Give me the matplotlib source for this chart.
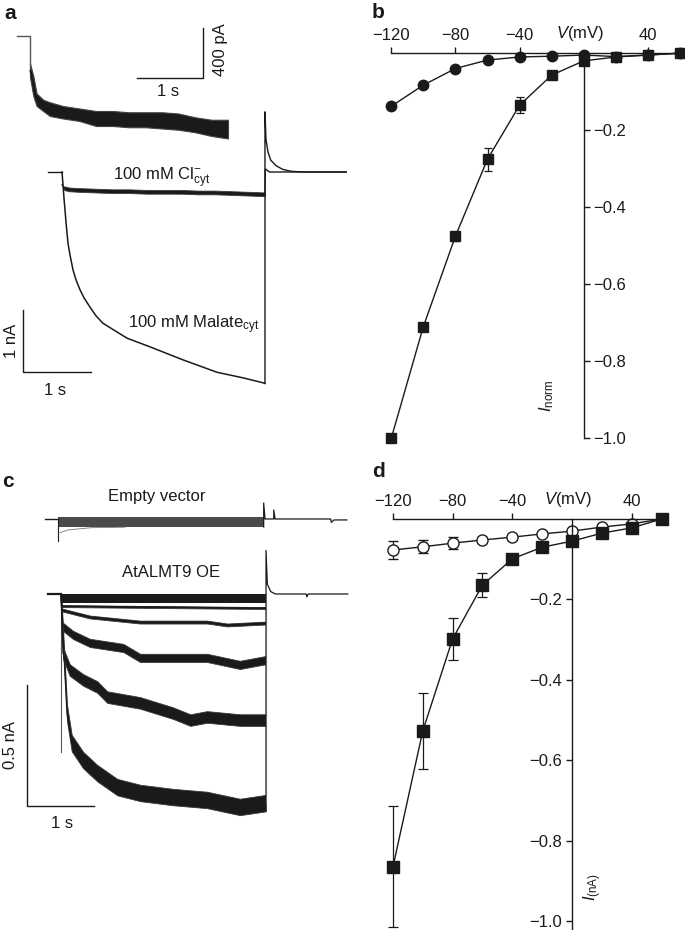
import matplotlib
matplotlib.use('Agg')
import matplotlib.pyplot as plt
import numpy as np

plt.rcParams['font.family'] = ['Liberation Sans', 'DejaVu Sans']
plt.rcParams['mathtext.fontset'] = 'custom'
plt.rcParams['mathtext.rm'] = 'Liberation Sans'
plt.rcParams['mathtext.it'] = 'Liberation Sans:italic'

W, H = 685, 930
INK = '#1a1a1a'
FS = 12

# ---------------- data ----------------
# panel a, main traces (time s, current nA)
pre_t = [-0.206, 0.0]
pre_i = [0.0, 0.0]
cl_t = [0.0, 0.03, 0.1, 0.25, 0.5, 0.75, 1.0, 1.25, 1.5, 1.75, 2.0, 2.25, 2.5, 2.75, 2.985]
cl_i = [-0.20, -0.26, -0.28, -0.29, -0.30, -0.31, -0.31, -0.32, -0.32, -0.32, -0.33, -0.33, -0.34, -0.35, -0.36]
mal_t = [0.0, 0.015, 0.029, 0.044, 0.059, 0.088, 0.118, 0.162, 0.206, 0.265, 0.324, 0.412,
         0.5, 0.603, 0.779, 0.956, 1.294, 1.779, 2.279, 2.662, 2.956, 2.985]
mal_i = [0.0, -0.21, -0.42, -0.61, -0.81, -1.15, -1.34, -1.58, -1.74, -1.90, -2.03, -2.18,
         -2.32, -2.44, -2.56, -2.68, -2.82, -3.03, -3.23, -3.32, -3.40, -3.41]
tail_t = [2.985, 2.985, 3.0, 3.03, 3.07, 3.15, 3.25, 3.38, 3.57, 4.18]
tail_i = [-3.41, 0.97, 0.52, 0.32, 0.19, 0.10, 0.04, 0.01, 0.0, 0.0]

# panel a, inset (zoomed chloride trace)
ins_pre_t = [-0.197, 0.0, 0.0]
ins_pre_i = [0.0, 0.0, -0.25]
ins_t = [0.0, 0.05, 0.1, 0.2, 0.3, 0.5, 0.75, 1.0, 1.25, 1.5, 1.75, 2.0, 2.25, 2.5, 2.75, 3.0]
ins_hi = [-0.22, -0.32, -0.46, -0.51, -0.53, -0.56, -0.58, -0.60, -0.60, -0.61, -0.61, -0.61, -0.62, -0.65, -0.67, -0.67]
ins_lo = [-0.33, -0.48, -0.56, -0.60, -0.64, -0.66, -0.68, -0.72, -0.72, -0.73, -0.73, -0.74, -0.75, -0.77, -0.80, -0.82]

# panel c, empty vector
ev_pre_t = [-0.194, 0.0]
ev_band_t = [0.0, 3.07]
ev_band_hi = [0.008, 0.008]
ev_band_lo = [-0.033, -0.033]
ev_decay_t = [0.0, 0.15, 0.5, 1.0]
ev_decay_i = [-0.06, -0.045, -0.036, -0.034]
ev_post_t = [3.07, 3.07, 3.09, 3.22, 3.22, 3.24, 4.07, 4.08, 4.12, 4.31]
ev_post_i = [-0.033, 0.066, 0.0, 0.0, 0.037, 0.0, 0.0, -0.014, -0.004, -0.004]

# panel c, AtALMT9 OE family of traces
oe_pre_t = [-0.194, 0.0]
oe_band_t = [0.0, 3.06]
oe_band_hi = [0.002, 0.002]
oe_band_lo = [-0.036, -0.036]
oe_traces = [
    ([0.0, 0.02, 1.5, 3.06], [0.0, -0.05, -0.054, -0.058], 0.004),
    ([0.0, 0.015, 0.43, 1.18, 2.18, 2.48, 3.06],
     [0.0, -0.066, -0.095, -0.116, -0.116, -0.128, -0.12], 0.006),
    ([0.0, 0.03, 0.18, 0.43, 0.93, 1.18, 1.67, 2.18, 2.67, 3.06],
     [0.0, -0.136, -0.169, -0.202, -0.223, -0.264, -0.264, -0.264, -0.293, -0.273], 0.017),
    ([0.0, 0.03, 0.13, 0.33, 0.54, 0.69, 1.18, 1.67, 1.93, 2.18, 2.67, 3.06],
     [0.0, -0.244, -0.314, -0.355, -0.384, -0.426, -0.450, -0.492, -0.521, -0.508, -0.521, -0.521], 0.024),
    ([0.0, 0.015, 0.09, 0.16, 0.33, 0.54, 0.84, 1.18, 1.67, 2.18, 2.67, 3.06],
     [0.0, -0.095, -0.492, -0.616, -0.686, -0.740, -0.798, -0.822, -0.839, -0.851, -0.880, -0.864], 0.034),
]
oe_transient_i = -0.653
oe_post_t = [3.06, 3.06, 3.08, 3.13, 3.2, 3.66, 3.67, 3.69, 4.28]
oe_post_i = [-0.864, 0.18, 0.04, 0.01, 0.0, 0.0, -0.012, 0.0, 0.0]

# panels b and d, I-V curves
V = [-120, -100, -80, -60, -40, -20, 0, 20, 40, 60]
b_sq = [-1.0, -0.71, -0.475, -0.275, -0.135, -0.057, -0.02, -0.01, -0.005, 0.0]
b_sq_err = [0, 0, 0.012, 0.03, 0.02, 0, 0, 0, 0, 0]
b_circ = [-0.138, -0.083, -0.04, -0.018, -0.01, -0.008, -0.005, -0.009, -0.005, 0.0]

d_sq = [-0.865, -0.527, -0.298, -0.164, -0.099, -0.07, -0.055, -0.035, -0.022, 0.0]
d_sq_err = [0.15, 0.095, 0.053, 0.03, 0.012, 0.008, 0.005, 0.004, 0.004, 0]
d_circ = [-0.077, -0.069, -0.06, -0.052, -0.045, -0.037, -0.03, -0.02, -0.012, 0.0]
d_circ_err = [0.022, 0.016, 0.015, 0.008, 0.006, 0.004, 0.003, 0.002, 0.002, 0]

iv_xticks = [-120, -80, -40, 40]
iv_yticks = [-0.2, -0.4, -0.6, -0.8, -1.0]


# ---------------- helpers ----------------
fig = plt.figure(figsize=(W / 100, H / 100), dpi=100)


def frac(x0, y0, x1, y1):
    return [x0 / W, 1 - y1 / H, (x1 - x0) / W, (y1 - y0) / H]


def ftext(x, y, s, **kw):
    kw.setdefault('fontsize', FS)
    kw.setdefault('color', INK)
    fig.text(x / W, 1 - y / H, s, **kw)


def trace_axes(box, x0px, y0px, px_s, px_na):
    ax = fig.add_axes(frac(*box))
    ax.set_xlim((box[0] - x0px) / px_s, (box[2] - x0px) / px_s)
    ax.set_ylim(-(box[3] - y0px) / px_na, -(box[1] - y0px) / px_na)
    ax.axis('off')
    return ax


def band(ax, t, mid, hw, color=INK):
    t = np.asarray(t)
    mid = np.asarray(mid)
    ax.fill_between(t[1:], mid[1:] - hw, mid[1:] + hw, color=color, lw=0.6, ec='#3a3a3a')
    ax.plot(t, mid, color=color, lw=0.9)


def scalebar(ax, x, y, dx, dy):
    ax.plot([x, x, x + dx], [y + dy, y, y], color=INK, lw=1)


# ---------------- panel a ----------------
ax_a = trace_axes((0, 100, 365, 400), 62, 172, 68, 62)
ax_a.plot(pre_t, pre_i, color=INK, lw=1)
ax_a.plot(mal_t, mal_i, color=INK, lw=1.1)
band(ax_a, cl_t, cl_i, 0.03)
ax_a.plot(tail_t, tail_i, color=INK, lw=1)
ax_a.plot([2.985, 2.99, 3.05, 4.18], [-0.36, 0.05, 0.0, 0.0], color=INK, lw=1)
scalebar(ax_a, -0.574, -3.226, 1.0, 1.0)

ax_in = trace_axes((0, 20, 365, 160), 30, 36, 66, 125)
ax_in.plot(ins_pre_t, ins_pre_i, color='#555555', lw=1)
ax_in.fill_between(ins_t, ins_lo, ins_hi, color=INK, lw=0.8, ec='#444444')
ax_in.plot(ins_t, (np.array(ins_hi) + np.array(ins_lo)) / 2, color=INK, lw=0.8)
scalebar(ax_in, 2.62, -0.336, -1.0, 0.4)

ftext(4, 4, 'a', fontsize=15, fontweight='bold', va='top')
ftext(221, 50, '400 pA', rotation=90, ha='center', va='center')
ftext(168, 91, '1 s', ha='center', va='center')
ftext(113, 180, r'100 mM Cl$^{-}_{\mathrm{cyt}}$', ha='left', va='baseline')
ftext(128, 328, r'100 mM Malate$_{\mathrm{cyt}}$', ha='left', va='baseline')
ftext(12, 341, '1 nA', rotation=90, ha='center', va='center')
ftext(55, 390, '1 s', ha='center', va='center')

# ---------------- panel c ----------------
ax_c = trace_axes((0, 480, 365, 840), 61, 594, 67, 242)
ev_dt, ev_di = -0.045, 0.31   # placement of the empty vector record
ax_c.plot(np.array(ev_pre_t) + ev_dt, np.array([0, 0]) + ev_di, color=INK, lw=1)
ax_c.plot([ev_dt, ev_dt], [ev_di, ev_di - 0.09], color=INK, lw=0.8)
ax_c.fill_between(np.array(ev_band_t) + ev_dt, np.array(ev_band_lo) + ev_di,
                  np.array(ev_band_hi) + ev_di, color='#4a4a4a', lw=0)
ax_c.plot(np.array(ev_decay_t) + ev_dt, np.array(ev_decay_i) + ev_di, color='#777777', lw=0.6)
ax_c.plot(np.array(ev_post_t) + ev_dt, np.array(ev_post_i) + ev_di, color=INK, lw=0.9)

ax_c.plot(oe_pre_t, [0, 0], color=INK, lw=1.6)
ax_c.plot([0, 0], [0, oe_transient_i], color='#555555', lw=0.8)
ax_c.fill_between(oe_band_t, oe_band_lo, oe_band_hi, color=INK, lw=0)
for t, i, hw in oe_traces:
    band(ax_c, t, i, hw)
ax_c.plot(oe_post_t, oe_post_i, color=INK, lw=0.9)
ax_c.plot([oe_post_t[0], oe_post_t[0]], [oe_post_i[0], 0], color='#666666', lw=0.8)
scalebar(ax_c, -0.507, -0.876, 1.0, 0.5)

ftext(2, 472, 'c', fontsize=15, fontweight='bold', va='top')
ftext(157, 496, 'Empty vector', ha='center', va='center')
ftext(171, 572, 'AtALMT9 OE', ha='center', va='center')
ftext(11, 745, '0.5 nA', rotation=90, ha='center', va='center')
ftext(62, 823, '1 s', ha='center', va='center')


# ---------------- panels b and d ----------------
def iv_axes(box, xlim, ylim, yside, ybounds, xbounds):
    ax = fig.add_axes(frac(*box))
    ax.set_xlim(*xlim)
    ax.set_ylim(*ylim)
    ax.patch.set_alpha(0)
    other = 'left' if yside == 'right' else 'right'
    for s in ['bottom', other]:
        ax.spines[s].set_visible(False)
    ax.spines['top'].set_position(('data', 0))
    ax.spines[yside].set_position(('data', 0))
    ax.spines['top'].set_bounds(*xbounds)
    ax.spines[yside].set_bounds(*ybounds)
    for s in ['top', yside]:
        ax.spines[s].set_color(INK)
        ax.spines[s].set_linewidth(1)
    ax.xaxis.set_ticks_position('top')
    ax.yaxis.set_ticks_position(yside)
    ax.set_xticks(iv_xticks)
    ax.set_xticklabels([f'{v:d}'.replace('-', '\u2212') for v in iv_xticks])
    ax.set_yticks(iv_yticks)
    ax.set_yticklabels([f'{v:.1f}'.replace('-', '\u2212') for v in iv_yticks])
    ax.tick_params(length=4, width=1, color=INK, labelsize=FS, labelcolor=INK, pad=3)
    ax.annotate(r'$V$(mV)', xy=(0, 0), xycoords='data', xytext=(-3, 7),
                textcoords='offset points', ha='center', va='bottom',
                fontsize=FS, color=INK)
    return ax


ax_b = iv_axes((388, 30, 685, 450), (-122, 63), (-1.03, 0.06), 'right', (-1.0, 0), (-120, 63))
ax_b.plot(V, b_circ, marker='o', ms=7.5, color=INK, lw=1, clip_on=False)
ax_b.errorbar(V, b_sq, yerr=b_sq_err, marker='s', ms=7.5, color=INK, lw=1,
              capsize=3, elinewidth=0.9, capthick=0.9, clip_on=False)
ax_b.text(-23, -0.89, r'$I_{\mathrm{norm}}$', rotation=90, ha='center', va='center',
          fontsize=FS, color=INK)
ftext(372, 3, 'b', fontsize=15, fontweight='bold', va='top')

ax_d = iv_axes((388.5, 507, 666, 929), (-123, 63), (-1.02, 0.03), 'left', (-1.02, 0), (-120, 60))
ax_d.errorbar(V, d_circ, yerr=d_circ_err, marker='o', ms=8, color=INK, mfc='white',
              mec=INK, mew=1, lw=1, capsize=3.5, elinewidth=0.9, capthick=0.9, clip_on=False)
ax_d.errorbar(V, d_sq, yerr=d_sq_err, marker='s', ms=8, color=INK, lw=1,
              capsize=3.5, elinewidth=0.9, capthick=0.9, clip_on=False)
ax_d.text(14, -0.915, r'$I_{\mathrm{(nA)}}$', rotation=90, ha='center', va='center',
          fontsize=FS, color=INK)
ftext(372, 462, 'd', fontsize=15, fontweight='bold', va='top')

fig.savefig('out.png', dpi=100)
